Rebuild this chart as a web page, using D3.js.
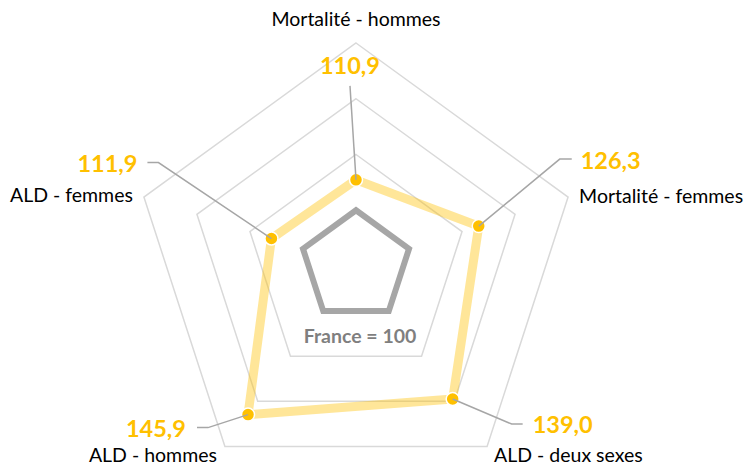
<!DOCTYPE html>
<html>
<head>
<meta charset="utf-8">
<script src="https://cdn.jsdelivr.net/npm/d3@7"></script>
<style>
  body { margin: 0; background: #fff; }
  svg { display: block; }
</style>
</head>
<body>
<svg id="chart" width="750" height="469"></svg>
<script>
// axes, clockwise from the top
var categories = ['Mortalité - hommes', 'Mortalité - femmes', 'ALD - deux sexes', 'ALD - hommes', 'ALD - femmes'];
var values = [110.9, 126.3, 139.0, 145.9, 111.9];
var valueLabels = ['110,9', '126,3', '139,0', '145,9', '111,9'];
var reference = [100, 100, 100, 100, 100];
var gridLevels = [100, 120, 140, 160];
var refLabel = 'France = 100';

var w = 750, h = 469;
var cx = 356, cy = 266, R = 223;
var svg = d3.select('#chart');

var rscale = d3.scaleLinear().domain([80, 160]).range([0, R]);
var angle = d3.scaleLinear().domain([0, categories.length]).range([0, 2 * Math.PI]);

function pt(i, v) {
  var a = angle(i), r = rscale(v);
  return [cx + r * Math.sin(a), cy - r * Math.cos(a)];
}

var line = d3.line().curve(d3.curveLinearClosed);

// grid rings
svg.append('g').selectAll('path')
  .data(gridLevels)
  .enter()
  .append('path')
  .attr('d', function(lv) { return line(categories.map(function(c, i) { return pt(i, lv); })); })
  .attr('fill', 'none')
  .attr('stroke', '#d9d9d9')
  .attr('stroke-width', 1.5);

// France reference
svg.append('path')
  .attr('d', line(reference.map(function(v, i) { return pt(i, v); })))
  .attr('fill', 'none')
  .attr('stroke', '#a6a6a6')
  .attr('stroke-width', 6)
  .attr('stroke-linejoin', 'miter');

svg.append('text')
  .attr('x', cx + 4)
  .attr('y', cy + 77)
  .attr('text-anchor', 'middle')
  .attr('font-family', 'Lato')
  .attr('font-weight', 'bold')
  .attr('font-size', '19.5px')
  .attr('fill', '#7f7f7f')
  .text(refLabel);

// series
svg.append('path')
  .attr('d', line(values.map(function(v, i) { return pt(i, v); })))
  .attr('fill', 'none')
  .attr('stroke', '#ffc000')
  .attr('stroke-opacity', 0.4)
  .attr('stroke-width', 9)
  .attr('stroke-linejoin', 'miter');

svg.append('g').selectAll('circle')
  .data(values)
  .enter()
  .append('circle')
  .attr('cx', function(d, i) { return pt(i, d)[0]; })
  .attr('cy', function(d, i) { return pt(i, d)[1]; })
  .attr('r', 6.5)
  .attr('fill', '#ffc000')
  .attr('stroke', '#fff')
  .attr('stroke-width', 1.5);

// leader lines: elbow and end, relative to the point
var leaders = [
  [[-6, -94], [-6, -94]],
  [[81, -67], [93, -67]],
  [[59, 25], [70, 25]],
  [[-40, 13], [-51, 13]],
  [[-113, -76], [-124, -76]]
];
var labelPos = [
  [-6, -106, 'middle'],
  [102, -57, 'start'],
  [80, 34, 'start'],
  [-62, 22, 'end'],
  [-134, -67, 'end']
];

svg.append('g').selectAll('path')
  .data(values)
  .enter()
  .append('path')
  .attr('d', function(d, i) {
    var p = pt(i, d), l = leaders[i];
    return d3.line()([p, [p[0] + l[0][0], p[1] + l[0][1]], [p[0] + l[1][0], p[1] + l[1][1]]]);
  })
  .attr('fill', 'none')
  .attr('stroke', '#a6a6a6')
  .attr('stroke-width', 1.5);

svg.append('g').selectAll('text')
  .data(values)
  .enter()
  .append('text')
  .attr('x', function(d, i) { return pt(i, d)[0] + labelPos[i][0]; })
  .attr('y', function(d, i) { return pt(i, d)[1] + labelPos[i][1]; })
  .attr('text-anchor', function(d, i) { return labelPos[i][2]; })
  .attr('font-family', 'Lato')
  .attr('font-weight', 'bold')
  .attr('font-size', '23.5px')
  .attr('fill', '#ffc000')
  .text(function(d, i) { return valueLabels[i]; });

// category labels, relative to the outer vertex
var catPos = [
  [0, -17, 'middle'],
  [11, 6, 'start'],
  [7, 16, 'start'],
  [-8, 16, 'end'],
  [-11, 5, 'end']
];
svg.append('g').selectAll('text')
  .data(categories)
  .enter()
  .append('text')
  .attr('x', function(d, i) { return pt(i, 160)[0] + catPos[i][0]; })
  .attr('y', function(d, i) { return pt(i, 160)[1] + catPos[i][1]; })
  .attr('text-anchor', function(d, i) { return catPos[i][2]; })
  .attr('font-family', 'Lato')
  .attr('font-size', '19.5px')
  .attr('fill', '#000')
  .text(function(d) { return d; });
</script>
</body>
</html>
